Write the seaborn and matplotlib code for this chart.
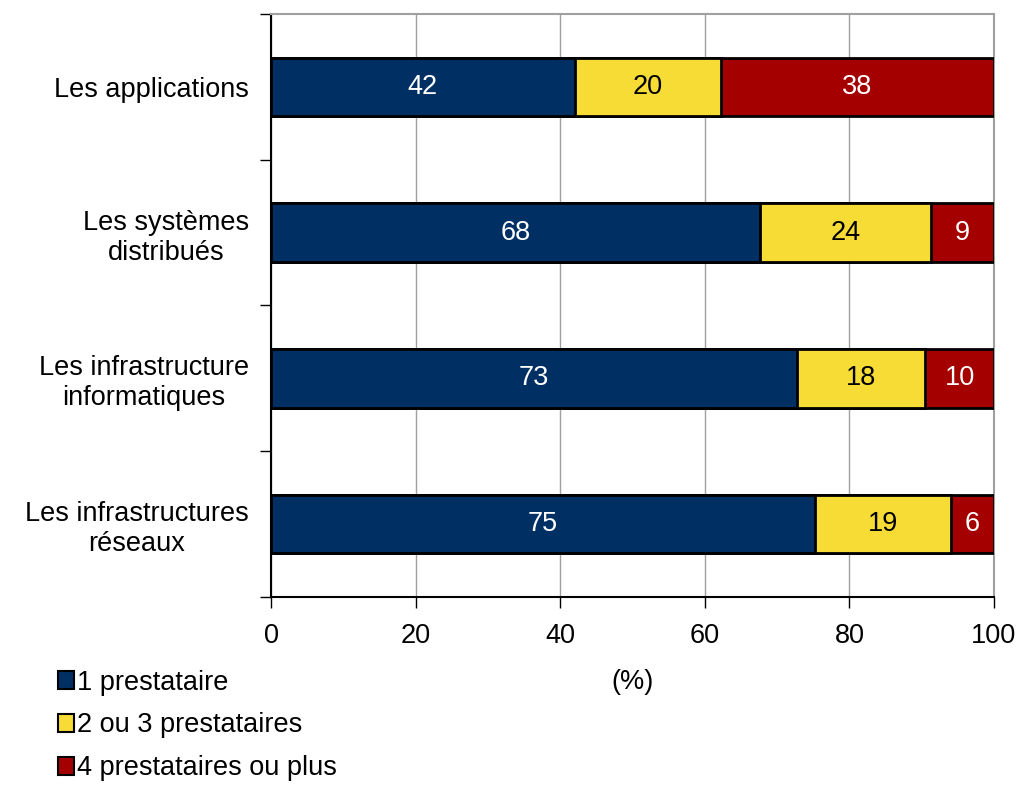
import numpy as np
import pandas as pd
import matplotlib
matplotlib.use("Agg")
import matplotlib.pyplot as plt
from matplotlib.patches import Patch
from matplotlib.ticker import FixedLocator
import seaborn as sns

sns.set_theme(style="white")
plt.rcParams['font.family'] = ['Liberation Sans', 'DejaVu Sans']
plt.rcParams['text.color'] = 'black'
plt.rcParams['axes.labelcolor'] = 'black'
plt.rcParams['xtick.color'] = 'black'
plt.rcParams['ytick.color'] = 'black'

# --- DATA ---
categories = ["Les applications", "Les systèmes\ndistribués",
              "Les infrastructure\ninformatiques", "Les infrastructures\nréseaux"]
series_names = ["1 prestataire", "2 ou 3 prestataires", "4 prestataires ou plus"]
one_provider = [42.0, 67.6, 72.8, 75.2]
two_three = [20.2, 23.7, 17.7, 18.8]
four_plus = [37.8, 8.7, 9.5, 6.0]
label_one = ["42", "68", "73", "75"]
label_two = ["20", "24", "18", "19"]
label_four = ["38", "9", "10", "6"]
x_ticks = [0, 20, 40, 60, 80, 100]

COLORS = ["#003063", "#F7DC36", "#A50000"]
TEXT_COLORS = ["white", "black", "white"]
FS = 19.5

df = pd.DataFrame({
    "category": categories,
    "s1": one_provider,
    "s2": two_three,
    "s3": four_plus,
})
df["c1"] = df["s1"]
df["c2"] = df["s1"] + df["s2"]
df["c3"] = df["c2"] + df["s3"]

fig = plt.figure(figsize=(10.2, 7.85), dpi=100)
ax = fig.add_axes([0.2657, 0.2395, 0.7088, 0.7427])

# stacked bars drawn as overlapping cumulative bars, widest first
for col, color in zip(["c3", "c2", "c1"], COLORS[::-1]):
    sns.barplot(data=df, x=col, y="category", orient="h", color=color,
                width=0.4, edgecolor="black", linewidth=2, saturation=1,
                ax=ax, zorder=3)

# segment labels
segs = [("s1", 0, label_one), ("s2", 1, label_two), ("s3", 2, label_four)]
starts = [np.zeros(len(df)), df["c1"].values, df["c2"].values]
for (col, k, labels), start in zip(segs, starts):
    for i, (v, s, lab) in enumerate(zip(df[col].values, start, labels)):
        ax.text(s + v / 2, i, lab, ha="center", va="center",
                color=TEXT_COLORS[k], fontsize=FS, zorder=5)

ax.set_xlim(0, 100)
ax.set_ylim(len(categories) - 0.5, -0.5)
ax.set_xticks(x_ticks)
ax.set_xticklabels([str(t) for t in x_ticks], fontsize=FS)
ax.set_yticks(range(len(categories)))
ax.set_yticklabels(categories, fontsize=FS, ha="right", multialignment="center")
ax.yaxis.set_minor_locator(FixedLocator(np.arange(-0.5, len(categories), 1.0)))
ax.tick_params(axis="y", which="major", length=0, pad=16)
ax.tick_params(axis="y", which="minor", length=8, width=1, color="black", direction="out", left=True)
ax.tick_params(axis="x", which="major", length=8, width=1, color="black", direction="out", bottom=True, pad=11)

ax.set_xlabel("(%)", fontsize=FS, labelpad=14)
ax.set_ylabel("")

ax.grid(axis="x", color="#a0a0a0", linewidth=1, zorder=0)
ax.set_axisbelow(True)
for side in ["top", "right"]:
    ax.spines[side].set_color("#a0a0a0")
    ax.spines[side].set_linewidth(1.5)
for side in ["left", "bottom"]:
    ax.spines[side].set_color("black")
    ax.spines[side].set_linewidth(1.5)

handles = [Patch(facecolor=c, edgecolor="black", linewidth=1.5) for c in COLORS]
fig.legend(handles, series_names, loc="lower left", bbox_to_anchor=(0.046, -0.009),
           frameon=False, fontsize=FS, handlelength=0.6, handleheight=0.65,
           handletextpad=0.12, labelspacing=0.62, borderaxespad=0)

plt.savefig("out.png", dpi=100)
plt.close()
